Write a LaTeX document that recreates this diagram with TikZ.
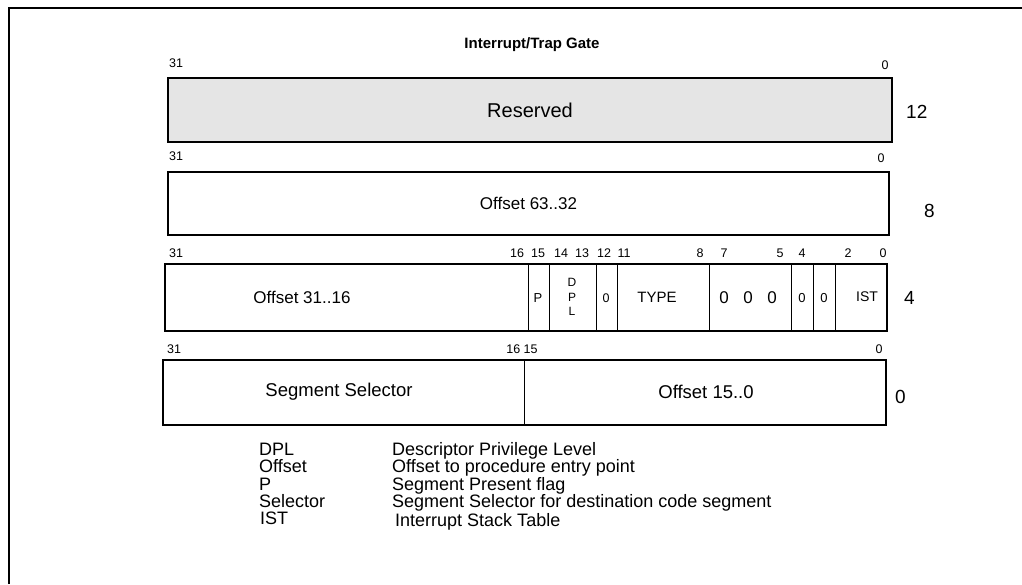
\documentclass[tikz,border=0pt]{standalone}
\usepackage{fontspec}
\setmainfont{Liberation Sans}
\definecolor{resgray}{RGB}{229,229,229}
\newcommand{\fsz}[1]{\fontsize{#1}{#1}\selectfont}
\begin{document}
\begin{tikzpicture}[x=1pt,y=-1pt,
  box/.style={draw, line width=1.8pt, inner sep=0pt},
  div/.style={line width=0.9pt},
  bit/.style={font=\fsz{12.5}, inner sep=0pt},
  cell/.style={font=\fsz{17}, inner sep=0pt},
  small/.style={font=\fsz{13}, inner sep=0pt},
  rowno/.style={font=\fsz{19}, inner sep=0pt, anchor=west},
  leg/.style={font=\fsz{18}, inner sep=0pt, anchor=base west}]
\useasboundingbox (0,0) rectangle (1022,584);
\draw[line width=2.5pt] (9,584) -- (9,8) -- (1022,8);
\node[font=\bfseries\fsz{15}, inner sep=0pt] (title) at (532,45) {Interrupt/Trap Gate};
% row 12
\node[box, fill=resgray, minimum width=724pt, minimum height=64pt, font=\fsz{20}] (r12) at (530,110) {Reserved};
\node[bit] (r12h) at (176,63) {31};
\node[bit] (r12l) at (885,65) {0};
\node[rowno] (n12) at (906,112) {12};
% row 8
\node[box, minimum width=721pt, minimum height=63pt, cell] (r8) at (528.5,203.5) {Offset 63..32};
\node[bit] (r8h) at (176,156) {31};
\node[bit] (r8l) at (881,158) {0};
\node[rowno] (n8) at (924,211) {8};
% row 4
\node[box, minimum width=722pt, minimum height=67pt] (r4) at (526,297.5) {};
\foreach \x in {528,549,596,617,709,791,813,835}
  \draw[div] (\x,264) -- (\x,331);
\node[cell] (o3116) at (302,297) {Offset 31..16};
\node[small] (pflag) at (538,298) {P};
\node[bit, align=center, font=\fontsize{12}{14.5}\selectfont] (dpl) at (572,297) {D\\P\\L};
\node[bit] (z12) at (606,298) {0};
\node[small, font=\fsz{15}] (type) at (657,297) {TYPE};
\node[cell] (z7) at (724,298) {0};
\node[cell] (z6) at (748,298) {0};
\node[cell] (z5) at (772,298) {0};
\node[small] (z4) at (802,298) {0};
\node[small] (z3) at (824,298) {0};
\node[small, font=\fsz{14}] (ist) at (867,297) {IST};
\node[rowno] (n4) at (904,298) {4};
\foreach \t/\x in {31/176,16/517,15/538,14/561,13/582,12/604,11/624,8/700,7/724,5/780,4/802,2/848,0/883}
  \node[bit] at (\x,253) {\t};
% row 0
\node[box, minimum width=723pt, minimum height=65pt] (r0) at (524.5,392.5) {};
\draw[div] (524,360) -- (524,425);
\node[cell, font=\fsz{18.5}] (sel) at (339,392) {Segment Selector};
\node[cell, font=\fsz{18.5}] (o150) at (706,392) {Offset 15..0};
\node[bit] (r0h) at (174,349) {31};
\node[bit] (r0m) at (522,349) {16 15};
\node[bit] (r0l) at (879,349) {0};
\node[rowno] (n0) at (895,397) {0};
% legend
\foreach \k/\d/\y in {DPL/Descriptor Privilege Level/455,Offset/Offset to procedure entry point/472.5,P/Segment Present flag/490,Selector/Segment Selector for destination code segment/507.5}{
  \node[leg] at (259,\y) {\k};
  \node[leg] at (392,\y) {\d};
}
\node[leg] (istk) at (260,524.5) {IST};
\node[leg] (istd) at (395,526.5) {Interrupt Stack Table};
\end{tikzpicture}
\end{document}
